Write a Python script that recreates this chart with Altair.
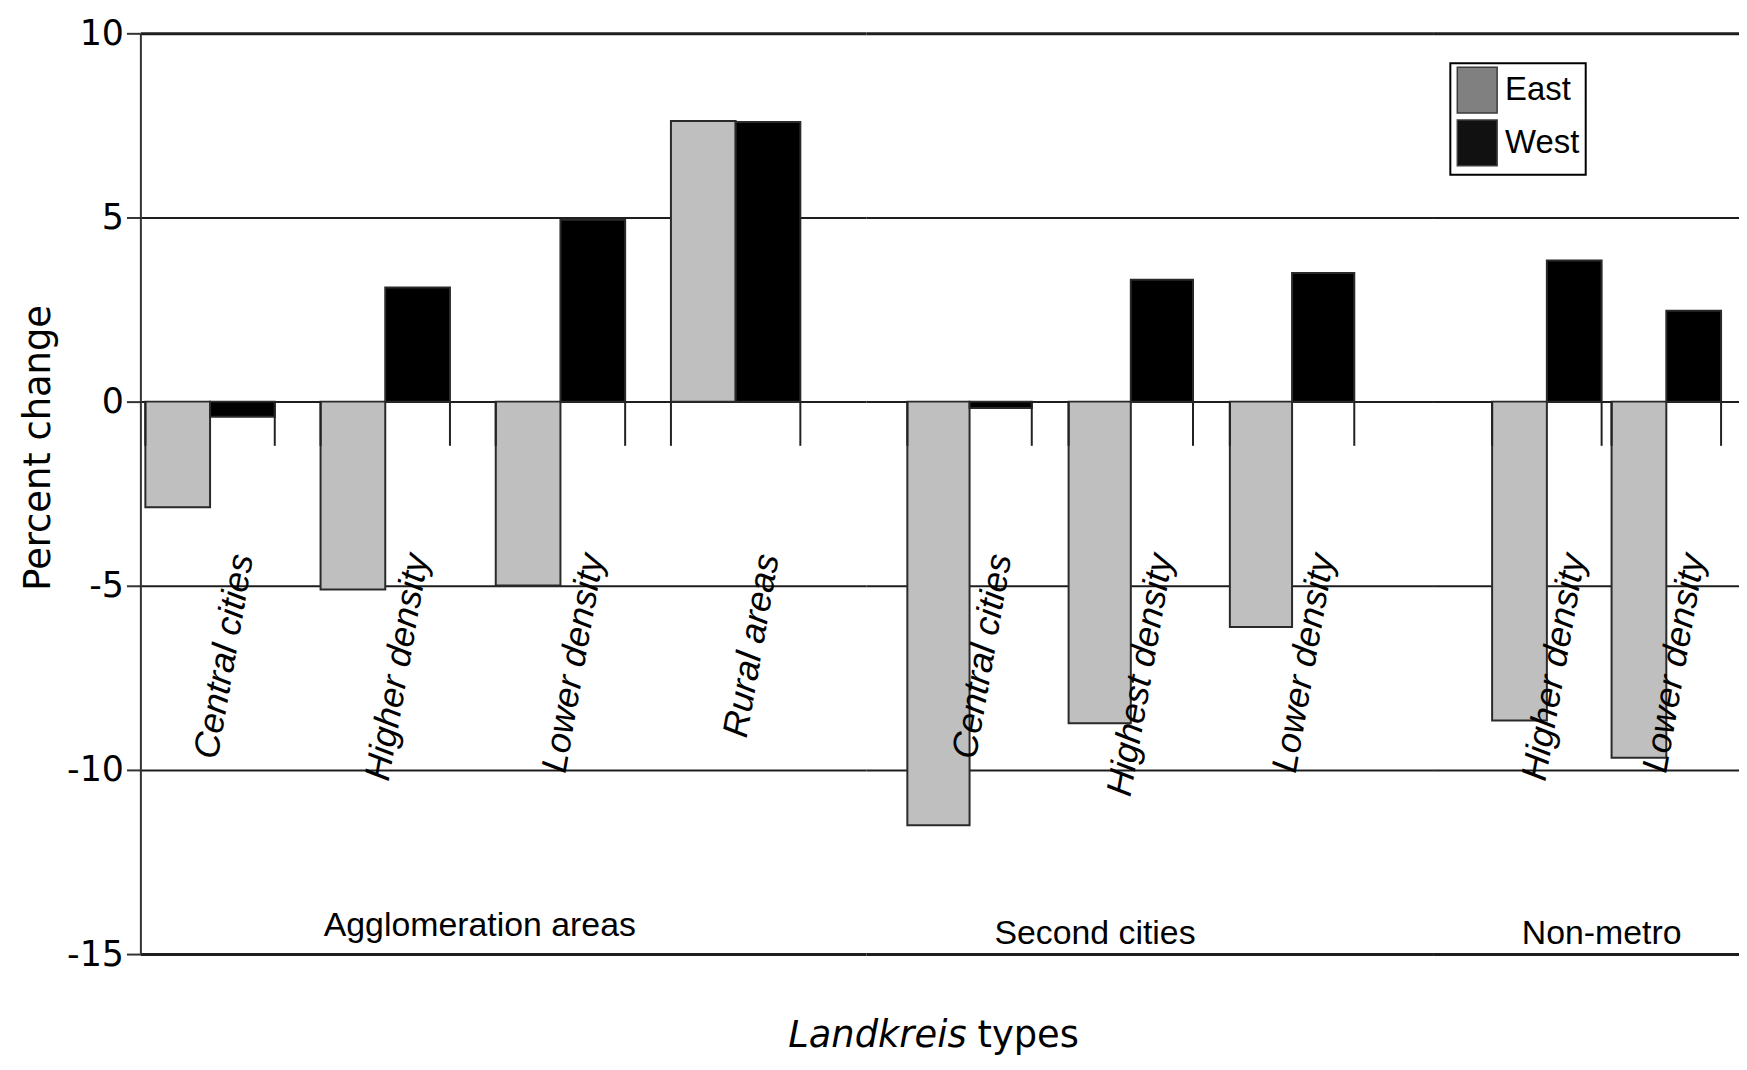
import altair as alt
import pandas as pd

# ---- data ----
group_names = ["Agglomeration areas", "Second cities", "Non-metro"]
groups = ["Agglomeration areas"] * 4 + ["Second cities"] * 3 + ["Non-metro"] * 2
types = ["Central cities", "Higher density", "Lower density", "Rural areas",
         "Central cities", "Highest density", "Lower density",
         "Higher density", "Lower density"]
east = [-2.87, -5.10, -4.99, 7.62, -11.5, -8.73, -6.12, -8.66, -9.67]
west = [-0.41, 3.10, 4.94, 7.59, -0.17, 3.31, 3.49, 3.83, 2.47]
series_names = ["East", "West"]
y_ticks = [10, 5, 0, -5, -10, -15]

rows = []
for g, t, e, w in zip(groups, types, east, west):
    rows.append({"group": g, "type": t, "series": "East", "value": e})
    rows.append({"group": g, "type": t, "series": "West", "value": w})
bars_df = pd.DataFrame(rows)
cat_df = pd.DataFrame({"type": types, "group": groups, "series": "West"})

# ---- layout (styles / sizes only) ----
H = 925
layout = {
    "Agglomeration areas": dict(width=729, pi=0.2614, po=0.2017, align=0.0704, anchor=1, dx=95, ylab=-14.25),
    "Second cities": dict(width=570, pi=0.2284, po=0.3735, align=0.343, anchor=1, dx=-36, ylab=-14.45),
    "Non-metro": dict(width=307, pi=0.0833, po=0.3208, align=0.766, anchor=0, dx=55, ylab=-14.45),
}

grid_width = {"condition": {"test": "datum.value == 10 || datum.value == -15", "value": 3}, "value": 2}
yscale = alt.Scale(domain=[-15, 10], nice=False, zero=False)

main_yaxis = alt.Axis(
    values=y_ticks, grid=True, gridColor="#1e1e1e", gridWidth=grid_width,
    domainColor="#333333", domainWidth=2, tickColor="#333333", tickWidth=2, tickSize=14,
    labelFont="DejaVu Sans", labelFontSize=35, labelColor="black", labelPadding=3,
    labelExpr="'' + datum.value",
    title="Percent change", titleFont="DejaVu Sans", titleFontSize=37, titleFontWeight="normal",
    titleColor="black", titleX=-102, titleY=416, titleAngle=270, titleAlign="center",
    titleBaseline="middle",
)
grid_only_axis = alt.Axis(
    values=y_ticks, grid=True, gridColor="#1e1e1e", gridWidth=grid_width,
    labels=False, ticks=False, domain=False, title=None,
)

RECT = "M-1,-1.15H1V1.15H-1Z"


def make_cell(gname, first):
    p = layout[gname]
    cats = [t for g, t in zip(groups, types) if g == gname]
    xscale = alt.Scale(domain=cats, paddingInner=p["pi"], paddingOuter=p["po"], align=p["align"])
    xenc = dict(field="type", type="nominal", sort=cats, scale=xscale, axis=None)
    xoff = alt.XOffset("series:N", scale=alt.Scale(domain=series_names, paddingInner=0, paddingOuter=0))
    bdf = bars_df[bars_df.group == gname]
    cdf = cat_df[cat_df.group == gname]

    bars = alt.Chart(bdf).mark_bar(stroke="#2a2a2a", strokeWidth=2).encode(
        x=alt.X(**xenc),
        xOffset=xoff,
        y=alt.Y("value:Q", scale=yscale, axis=main_yaxis if first else grid_only_axis),
        fill=alt.Fill("series:N", scale=alt.Scale(domain=series_names, range=["#bfbfbf", "#000000"]),
                      legend=None),
    )
    tick_l = alt.Chart(cdf).mark_rule(color="#222222", strokeWidth=2).encode(
        x=alt.X(**xenc, bandPosition=0), y=alt.datum(0), y2=alt.datum(-1.2),
    )
    tick_r = alt.Chart(cdf).mark_rule(color="#222222", strokeWidth=2).encode(
        x=alt.X(**xenc, bandPosition=1), y=alt.datum(0), y2=alt.datum(-1.2),
    )
    labels = alt.Chart(cdf).mark_text(
        angle=280, align="right", baseline="middle", font="Liberation Sans",
        fontSize=36, fontStyle="italic", color="black",
    ).encode(x=alt.X(**xenc), xOffset=xoff, y=alt.datum(-4.15), text="type:N")
    gdf = pd.DataFrame({"type": [cats[p["anchor"]]], "label": [gname]})
    glabel = alt.Chart(gdf).mark_text(
        align="center", baseline="middle", dx=p["dx"],
        font="Liberation Sans", fontSize=34, color="black",
    ).encode(x=alt.X(**xenc), y=alt.datum(p["ylab"]), text="label:N")

    layers = [bars, tick_l, tick_r, labels, glabel]
    if first:
        xt1 = alt.Chart(pd.DataFrame({"t": ["Landkreis"]})).mark_text(
            align="right", baseline="alphabetic", font="DejaVu Sans", fontSize=37,
            fontStyle="italic", color="black",
        ).encode(x=alt.value(830), y=alt.value(1018), text="t:N")
        xt2 = alt.Chart(pd.DataFrame({"t": ["types"]})).mark_text(
            align="left", baseline="alphabetic", font="DejaVu Sans", fontSize=37, color="black",
        ).encode(x=alt.value(841), y=alt.value(1018), text="t:N")
        layers += [xt1, xt2]
    if gname == "Non-metro":
        # invisible marks that carry the legend (legend colours differ from bar fills)
        legend_layer = alt.Chart(pd.DataFrame({"series": series_names})).mark_point(
            filled=True, opacity=0, shape=RECT,
        ).encode(
            x=alt.value(20), y=alt.value(20),
            color=alt.Color(
                "series:N",
                scale=alt.Scale(domain=series_names, range=["#808080", "#111111"]),
                legend=alt.Legend(
                    title=None, orient="none", legendX=17, legendY=30,
                    symbolType=RECT, symbolSize=1600,
                    symbolStrokeColor="#3a3a3a", symbolStrokeWidth=1.5, symbolOpacity=1,
                    labelFont="Liberation Sans", labelFontSize=33, labelColor="black",
                    labelOffset=7, padding=6, rowPadding=1,
                    fillColor="white", strokeColor="black",
                ),
            ),
        )
        layers.append(legend_layer)
    return alt.layer(*layers).properties(width=p["width"], height=H)


cells = [make_cell(g, i == 0) for i, g in enumerate(group_names)]

chart = alt.hconcat(*cells, spacing=0).resolve_scale(
    x="independent", xOffset="independent"
).resolve_axis(y="independent").resolve_legend(color="independent").properties(
    padding={"left": 12, "top": 6, "right": 0, "bottom": 8},
    bounds="flush",
    background="white",
).configure_view(strokeWidth=0).configure_legend(strokeWidth=2)

chart.save("out.html", embed_options={"renderer": "svg", "actions": False})
